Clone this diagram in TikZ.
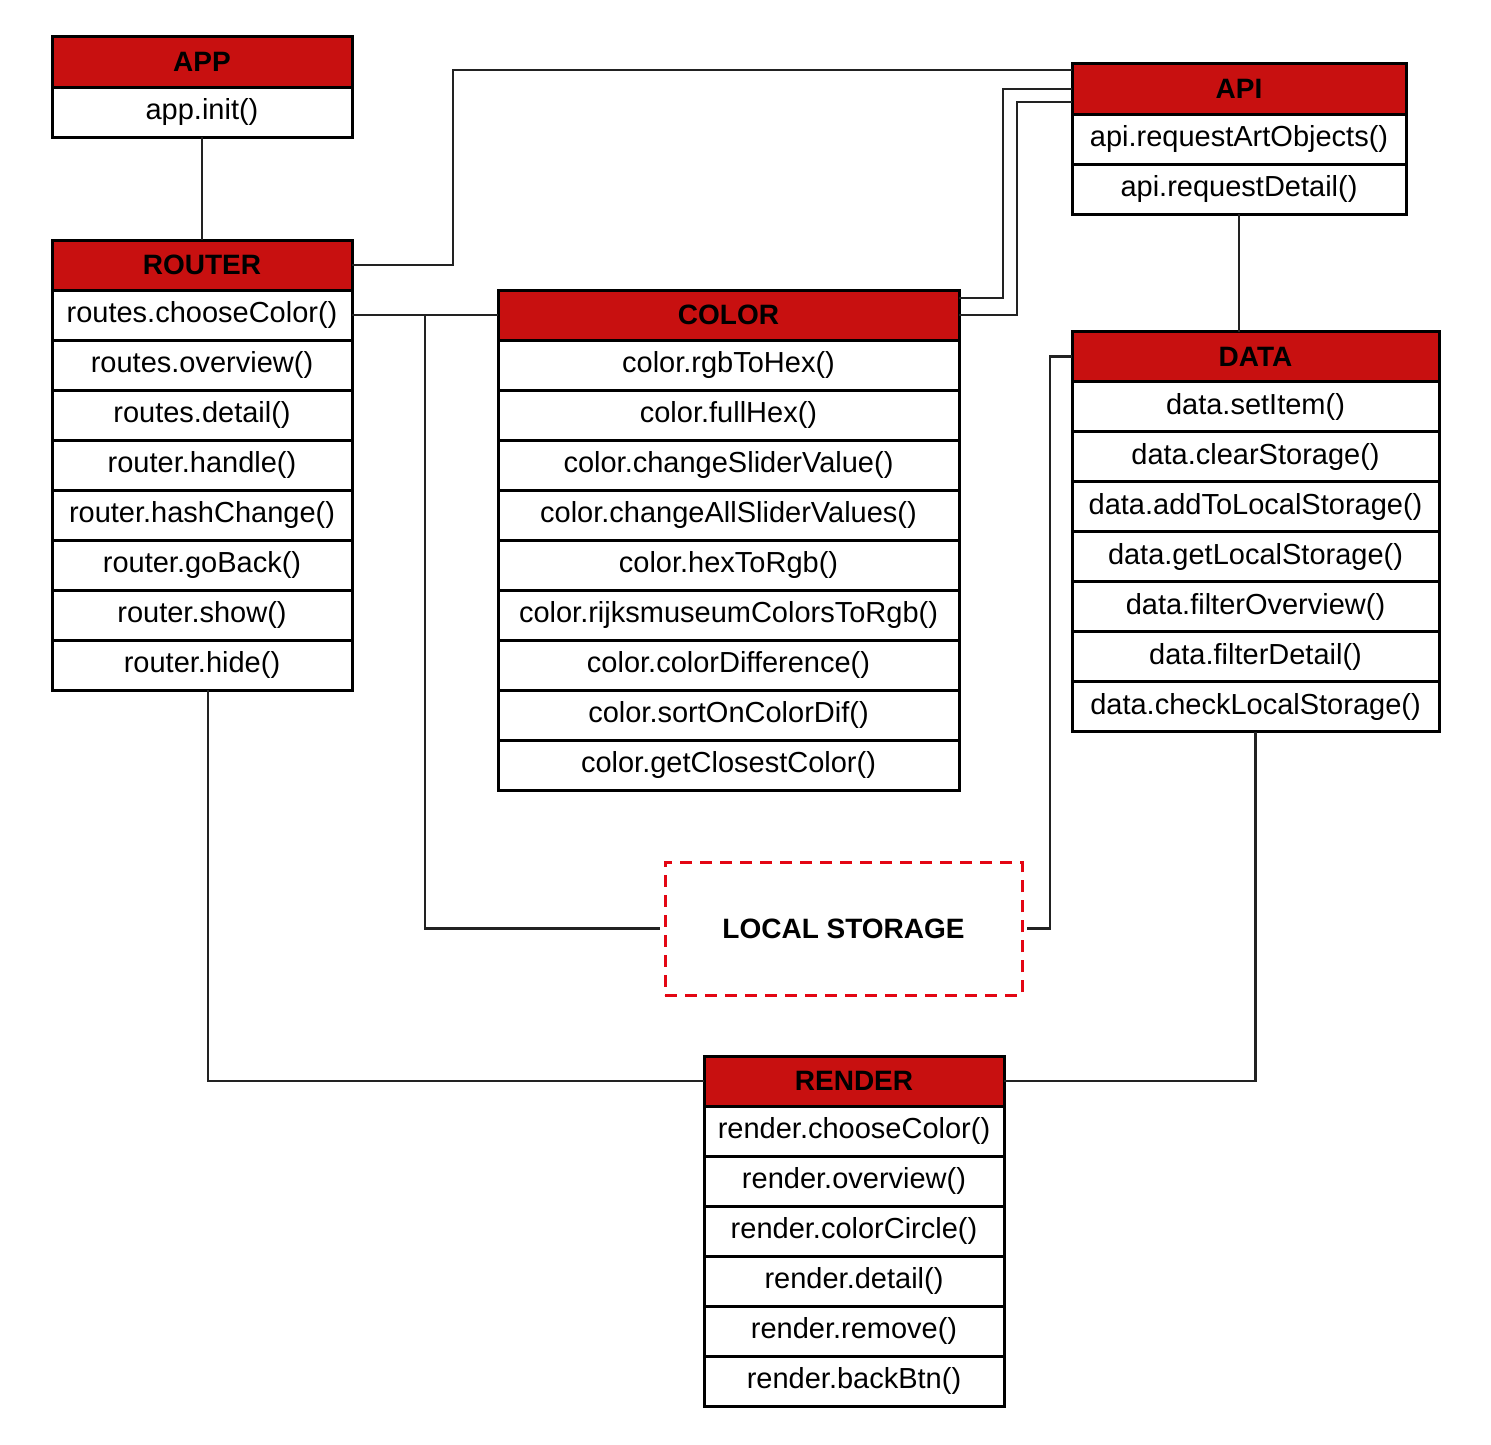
\documentclass[tikz,border=0pt]{standalone}
\usepackage{fontspec}
\setmainfont{Liberation Sans}
\usetikzlibrary{positioning}
\definecolor{headred}{HTML}{C81010}
\definecolor{storered}{HTML}{E30613}
\definecolor{linegray}{HTML}{222222}
\begin{document}
\begin{tikzpicture}[
  x=1pt,y=-1pt,
  box/.style={draw,line width=3pt,outer sep=0pt,inner sep=0pt,minimum height=50pt,font=\fontsize{29}{34}\selectfont},
  head/.style={box,fill=headred,font=\fontsize{28}{34}\selectfont\bfseries},
  row/.style={box,fill=white,below=0pt of #1},
  wire/.style={linegray,line width=2.5pt}
]
  \useasboundingbox (0,0) rectangle (1491,1445);

  % app
  \node[head,minimum width=300pt] (app) at (202,62) {APP};
  \node[row=app.south,minimum width=300pt] (app1) {app.init()};

  % router
  \node[head,minimum width=300pt] (router) at (202,265) {ROUTER};
  \node[row=router.south,minimum width=300pt] (rt1) {routes.chooseColor()};
  \node[row=rt1.south,minimum width=300pt] (rt2) {routes.overview()};
  \node[row=rt2.south,minimum width=300pt] (rt3) {routes.detail()};
  \node[row=rt3.south,minimum width=300pt] (rt4) {router.handle()};
  \node[row=rt4.south,minimum width=300pt] (rt5) {router.hashChange()};
  \node[row=rt5.south,minimum width=300pt] (rt6) {router.goBack()};
  \node[row=rt6.south,minimum width=300pt] (rt7) {router.show()};
  \node[row=rt7.south,minimum width=300pt] (rt8) {router.hide()};

  % color
  \node[head,minimum width=461pt] (color) at (728.5,315) {COLOR};
  \node[row=color.south,minimum width=461pt] (co1) {color.rgbToHex()};
  \node[row=co1.south,minimum width=461pt] (co2) {color.fullHex()};
  \node[row=co2.south,minimum width=461pt] (co3) {color.changeSliderValue()};
  \node[row=co3.south,minimum width=461pt] (co4) {color.changeAllSliderValues()};
  \node[row=co4.south,minimum width=461pt] (co5) {color.hexToRgb()};
  \node[row=co5.south,minimum width=461pt] (co6) {color.rijksmuseumColorsToRgb()};
  \node[row=co6.south,minimum width=461pt] (co7) {color.colorDifference()};
  \node[row=co7.south,minimum width=461pt] (co8) {color.sortOnColorDif()};
  \node[row=co8.south,minimum width=461pt] (co9) {color.getClosestColor()};

  % api
  \node[head,minimum width=334pt] (api) at (1239,89) {API};
  \node[row=api.south,minimum width=334pt] (ap1) {api.requestArtObjects()};
  \node[row=ap1.south,minimum width=334pt] (ap2) {api.requestDetail()};

  % data
  \node[head,minimum width=367pt] (data) at (1255.5,356.5) {DATA};
  \node[row=data.south,minimum width=367pt] (da1) {data.setItem()};
  \node[row=da1.south,minimum width=367pt] (da2) {data.clearStorage()};
  \node[row=da2.south,minimum width=367pt] (da3) {data.addToLocalStorage()};
  \node[row=da3.south,minimum width=367pt] (da4) {data.getLocalStorage()};
  \node[row=da4.south,minimum width=367pt] (da5) {data.filterOverview()};
  \node[row=da5.south,minimum width=367pt] (da6) {data.filterDetail()};
  \node[row=da6.south,minimum width=367pt] (da7) {data.checkLocalStorage()};

  % render
  \node[head,minimum width=300pt] (render) at (854,1081) {RENDER};
  \node[row=render.south,minimum width=300pt] (re1) {render.chooseColor()};
  \node[row=re1.south,minimum width=300pt] (re2) {render.overview()};
  \node[row=re2.south,minimum width=300pt] (re3) {render.colorCircle()};
  \node[row=re3.south,minimum width=300pt] (re4) {render.detail()};
  \node[row=re4.south,minimum width=300pt] (re5) {render.remove()};
  \node[row=re5.south,minimum width=300pt] (re6) {render.backBtn()};

  % local storage
  \node[draw=storered,line width=3pt,dash pattern=on 12pt off 8pt,minimum width=357pt,minimum height=133pt,
    outer sep=5pt,font=\fontsize{28}{34}\selectfont\bfseries] (store) at (843.5,928.5) {LOCAL STORAGE};

  % connectors
  \draw[wire] (app1.south) -- (router.north);
  \draw[wire] (router.east) -| (453,70) -- (api.west |- 453,70);
  \draw[wire] (rt1.east) -- (color.west);
  \draw[wire] (425,315) |- (store.west);
  \draw[wire] ([yshift=17pt]color.east) -| (1003,89) -- (api.west);
  \draw[wire] (color.east) -| (1017,102) -- (api.west |- 1017,102);
  \draw[wire] (ap2.south) -- (api.south |- data.north);
  \draw[wire] (data.west) -| (1050,928.5) -- (store.east);
  \draw[wire] ([xshift=6pt]rt8.south) |- (render.west);
  \draw[wire] (da7.south) |- (render.east);
\end{tikzpicture}
\end{document}
